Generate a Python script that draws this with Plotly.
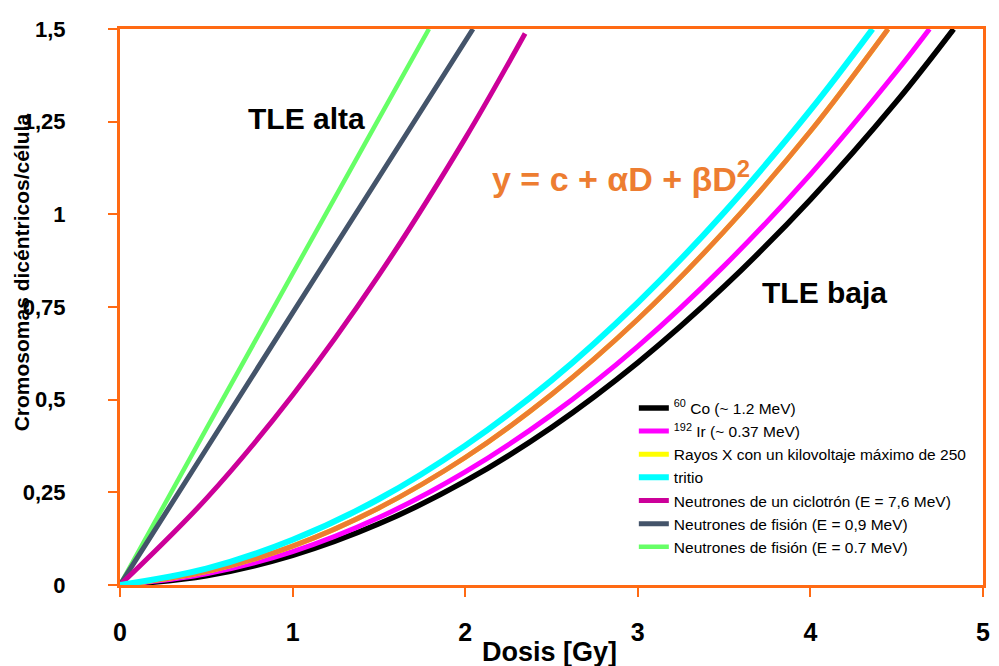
import plotly.graph_objects as go

# Dose (Gy) and dicentrics per cell
co_D = [0, 0.5, 1.0, 1.5, 2.0, 2.5, 3.0, 3.5, 4.0, 4.5, 4.83]
co_y = [0, 0.025, 0.080, 0.165, 0.280, 0.425, 0.600, 0.805, 1.040, 1.305, 1.500]

ir_D = [0, 0.5, 1.0, 1.5, 2.0, 2.5, 3.0, 3.5, 4.0, 4.5, 4.69]
ir_y = [0, 0.030, 0.090, 0.182, 0.305, 0.459, 0.644, 0.861, 1.108, 1.386, 1.500]

rx_D = [0, 0.5, 1.0, 1.5, 2.0, 2.5, 3.0, 3.5, 4.0, 4.45]
rx_y = [0, 0.036, 0.105, 0.208, 0.344, 0.514, 0.717, 0.954, 1.224, 1.500]

tr_D = [0, 0.5, 1.0, 1.5, 2.0, 2.5, 3.0, 3.5, 4.0, 4.36]
tr_y = [0, 0.044, 0.122, 0.232, 0.376, 0.552, 0.762, 1.005, 1.281, 1.500]

cy_D = [0, 0.5, 1.0, 1.5, 2.0, 2.347]
cy_y = [0, 0.233, 0.512, 0.836, 1.205, 1.488]

f9_D = [0, 0.5, 1.0, 1.5, 2.045]
f9_y = [0, 0.367, 0.734, 1.100, 1.500]

f7_D = [0, 0.5, 1.0, 1.5, 1.79]
f7_y = [0, 0.421, 0.840, 1.258, 1.500]

y_tickvals = [0, 0.25, 0.5, 0.75, 1, 1.25, 1.5]
y_ticktext = ["0", "0,25", "0,5", "0,75", "1", "1,25", "1,5"]
x_tickvals = [0, 1, 2, 3, 4, 5]

names = [
    "<sup>60</sup> Co (~ 1.2 MeV)",
    "<sup>192</sup> Ir (~ 0.37 MeV)",
    "Rayos X con un kilovoltaje máximo de 250",
    "tritio",
    "Neutrones de un ciclotrón (E = 7,6 MeV)",
    "Neutrones de fisión (E = 0,9 MeV)",
    "Neutrones de fisión (E = 0.7 MeV)",
]

ORANGE = "#FF6A13"
FONT = "Liberation Sans"
fig = go.Figure()

def add(D, y, name, color, width, rank, show=True):
    fig.add_trace(go.Scatter(
        x=D, y=y, mode="lines", name=name, line=dict(color=color, width=width, shape="spline"),
        showlegend=show, legendrank=rank, legendgroup=name,
    ))

add(f7_D, f7_y, names[6], "#66FF66", 4.5, 7)
add(f9_D, f9_y, names[5], "#44546A", 5, 6)
add(cy_D, cy_y, names[4], "#CC0099", 5, 5)
add(co_D, co_y, names[0], "#000000", 5.5, 1)
add(ir_D, ir_y, names[1], "#FF00FF", 5, 2)
add(rx_D, rx_y, names[2], "#FFFF00", 5, 3)
add(rx_D, rx_y, "rx_overlay", "#ED7D31", 5, 99, show=False)
add(tr_D, tr_y, names[3], "#00FFFF", 6, 4)

axis_common = dict(
    showline=True, linecolor=ORANGE, linewidth=3, mirror=True,
    ticks="outside", tickcolor=ORANGE, tickwidth=2, ticklen=9,
    showgrid=False, zeroline=False,
)

fig.update_xaxes(range=[0, 5], tickvals=x_tickvals, ticklabelstandoff=14,
                 tickfont=dict(family=FONT, size=25, color="black", weight="bold"), **axis_common)
fig.update_yaxes(range=[0, 1.5], tickvals=y_tickvals, ticktext=y_ticktext, ticklabelstandoff=38,
                 tickfont=dict(family=FONT, size=22, color="black", weight="bold"), **axis_common)

# page body has an 8px margin, so the figure is drawn at (8,8)
OFF = 8
PL, PR, PT, PB = 120, 990, 28, 585
W, H = PR - PL, PB - PT

def px(x):
    return (x - PL) / W

def py(y):
    return (PB - y) / H

def ann(text, x, y, size, color="black", angle=0):
    return dict(text=text, xref="paper", yref="paper", x=px(x), y=py(y), xanchor="center",
                yanchor="middle", showarrow=False, textangle=angle,
                font=dict(family=FONT, size=size, color=color, weight="bold"))

fig.update_layout(
    width=999 - OFF, height=666 - OFF,
    margin=dict(l=PL - OFF, r=999 - PR, t=PT - OFF, b=666 - PB),
    paper_bgcolor="white", plot_bgcolor="white",
    showlegend=True,
    legend=dict(
        x=px(638), y=py(391), xanchor="left", yanchor="top",
        bgcolor="rgba(255,255,255,0)", borderwidth=0,
        font=dict(family=FONT, size=15.5, color="black"),
        tracegroupgap=7, traceorder="normal",
    ),
    annotations=[
        ann("Dosis [Gy]", 553, 652, 27),
        ann("Cromosomas dicéntricos/célula", 21, 272, 21, angle=-90),
        ann("TLE alta", 308, 118, 30),
        ann("TLE baja", 830, 292, 30),
        ann("y = c + αD + βD<sup>2</sup>", 625, 176, 34, color="#ED7D31"),
    ],
)

fig.write_html("out.html")
